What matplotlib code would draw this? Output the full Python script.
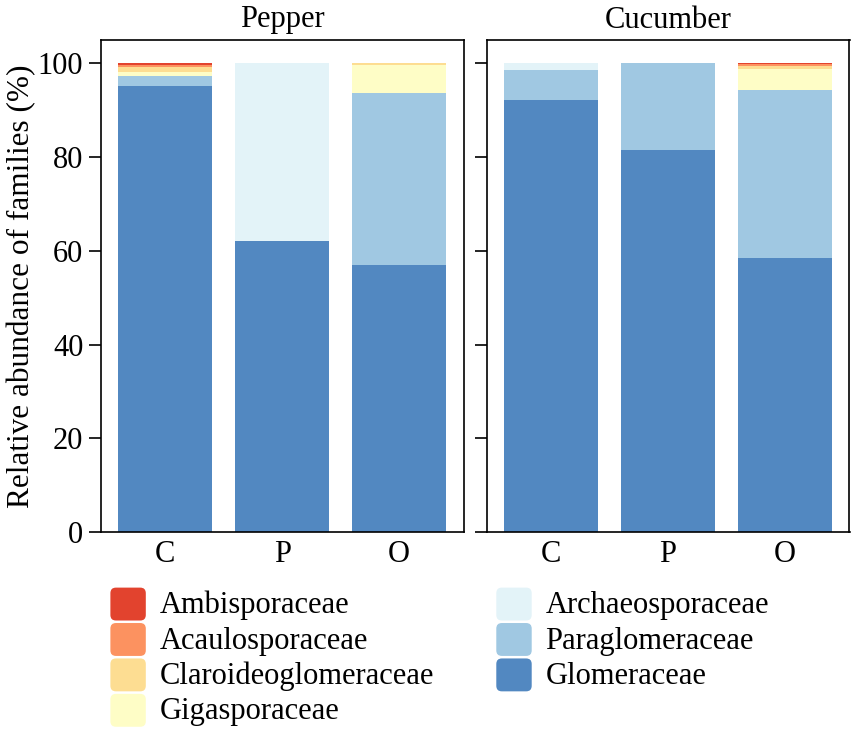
import matplotlib
matplotlib.use("Agg")
import matplotlib.pyplot as plt
import numpy as np
from matplotlib.patches import Patch, FancyBboxPatch
from matplotlib.legend_handler import HandlerPatch

plt.rcParams['font.family'] = ['Liberation Serif', 'DejaVu Serif']

crops = ["Pepper", "Cucumber"]
treatments = ["C", "P", "O"]
families = ["Ambisporaceae", "Acaulosporaceae", "Claroideoglomeraceae",
            "Gigasporaceae", "Archaeosporaceae", "Paraglomeraceae", "Glomeraceae"]
colors = ["#E2432E", "#FC9260", "#FDDD92", "#FEFDC6", "#E3F3F8", "#A0C8E2", "#5288C1"]

# values per family for C, P, O
pepper = {
    "Ambisporaceae":        [0.4, 0.0, 0.0],
    "Acaulosporaceae":      [0.4, 0.0, 0.0],
    "Claroideoglomeraceae": [1.0, 0.0, 0.4],
    "Gigasporaceae":        [0.8, 0.0, 5.9],
    "Archaeosporaceae":     [0.0, 38.0, 0.0],
    "Paraglomeraceae":      [2.3, 0.0, 36.8],
    "Glomeraceae":          [95.1, 62.0, 56.9],
}
cucumber = {
    "Ambisporaceae":        [0.0, 0.0, 0.1],
    "Acaulosporaceae":      [0.0, 0.0, 0.5],
    "Claroideoglomeraceae": [0.0, 0.0, 0.6],
    "Gigasporaceae":        [0.0, 0.0, 4.4],
    "Archaeosporaceae":     [1.5, 0.0, 0.0],
    "Paraglomeraceae":      [6.2, 18.5, 36.0],
    "Glomeraceae":          [92.3, 81.5, 58.4],
}
datasets = [pepper, cucumber]

W, H = 851, 729
fig = plt.figure(figsize=(W / 100, H / 100), dpi=100)
left_px, right_px, top_px, bot_px, gap_px = 100.7, 849.5, 40, 532, 23
aw = (right_px - left_px - gap_px) / 2
axes = []
for i in range(2):
    x0 = left_px + i * (aw + gap_px)
    ax = fig.add_axes([x0 / W, 1 - bot_px / H, aw / W, (bot_px - top_px) / H])
    axes.append(ax)

FS = 22
x = np.arange(len(treatments))
for i, (ax, data) in enumerate(zip(axes, datasets)):
    bottom = np.zeros(len(treatments))
    for fam, col in zip(families[::-1], colors[::-1]):
        vals = np.array(data[fam])
        ax.bar(x, vals, bottom=bottom, width=0.8, color=col, linewidth=0)
        bottom += vals
    ax.set_xlim(-0.55, 2.55)
    ax.set_ylim(0, 105)
    ax.set_yticks([0, 20, 40, 60, 80, 100])
    ax.set_xticks(x)
    ax.set_xticklabels(treatments, fontsize=FS)
    ax.tick_params(axis='x', length=0, pad=6)
    ax.tick_params(axis='y', direction='out', length=8.5, width=1.2, labelsize=FS, pad=4)
    for sp in ax.spines.values():
        sp.set_linewidth(1.2)
    ax.set_title(crops[i], fontsize=FS, pad=9)
    if i == 0:
        ax.set_ylabel("Relative abundance of families (%)", fontsize=FS + 0.5, labelpad=1)
    else:
        ax.tick_params(axis='y', labelleft=False)


class RoundHandler(HandlerPatch):
    def create_artists(self, legend, orig_handle, xdescent, ydescent, width, height, fontsize, trans):
        p = FancyBboxPatch((-xdescent + 1, -ydescent - 3), width - 2, height + 4,
                           boxstyle="round,pad=0,rounding_size=4",
                           facecolor=orig_handle.get_facecolor(), edgecolor='none',
                           transform=trans)
        return [p]

handles = [Patch(facecolor=c, label=f) for f, c in zip(families, colors)]
fig.legend(handles=handles, loc='upper left', ncol=2, frameon=False,
           bbox_to_anchor=(109 / W, 1 - 589 / H), fontsize=FS,
           handlelength=1.25, handleheight=1.0, handletextpad=0.4,
           labelspacing=0.14, columnspacing=2.0, borderpad=0, borderaxespad=0,
           handler_map={Patch: RoundHandler()})

fig.savefig("out.png", dpi=100)
